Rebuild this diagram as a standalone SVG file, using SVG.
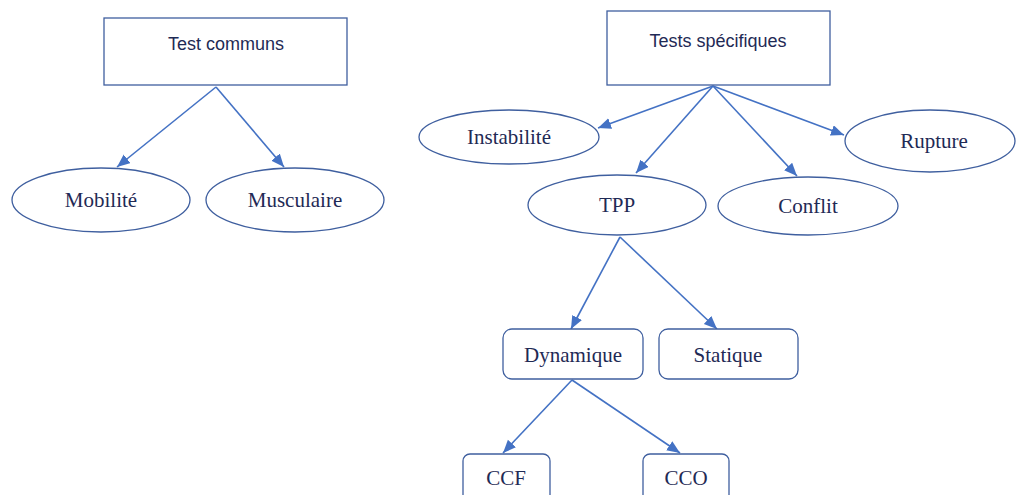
<svg xmlns="http://www.w3.org/2000/svg" width="1020" height="495" viewBox="0 0 1020 495">
<style>
.box{fill:#fff;stroke:#3f5f9f;stroke-width:1.3}
.ell{fill:#fff;stroke:#3f5f9f;stroke-width:1.3}
.sans{font-family:"Liberation Sans",Arial,sans-serif;font-size:18px;fill:#1f2a55;text-anchor:middle}
.serif{font-family:"Liberation Serif","Times New Roman",serif;font-size:21px;fill:#1f2a55;text-anchor:middle}
.conn line{stroke:#4472c4;stroke-width:1.6;marker-end:url(#ah)}
</style>
<defs>
<marker id="ah" markerUnits="userSpaceOnUse" markerWidth="15" markerHeight="13" refX="13" refY="5.5" orient="auto">
<path d="M0,0 L13,5.5 L0,11 z" fill="#4472c4"/>
</marker>
</defs>
<rect width="1020" height="495" fill="#fff"/>
<g id="connectors" class="conn">
<line x1="216" y1="87" x2="117" y2="167"/>
<line x1="216" y1="87" x2="284" y2="167"/>
<line x1="713" y1="86" x2="598" y2="128"/>
<line x1="713" y1="86" x2="636" y2="173"/>
<line x1="713" y1="86" x2="797" y2="176"/>
<line x1="713" y1="86" x2="844" y2="135"/>
<line x1="620" y1="237" x2="571" y2="329"/>
<line x1="620" y1="237" x2="717" y2="329"/>
<line x1="572" y1="380" x2="503" y2="453"/>
<line x1="572" y1="380" x2="680" y2="453"/>
</g>
<g id="test-communs"><rect class="box" x="104" y="18" width="243" height="67"/><text class="sans" x="226" y="50">Test communs</text></g>
<g id="mobilite"><ellipse class="ell" cx="101" cy="200" rx="89" ry="32"/><text class="serif" x="101" y="207">Mobilité</text></g>
<g id="musculaire"><ellipse class="ell" cx="295" cy="200" rx="89" ry="32"/><text class="serif" x="295" y="207">Musculaire</text></g>
<g id="tests-specifiques"><rect class="box" x="607" y="11" width="223" height="74"/><text class="sans" x="718" y="47">Tests spécifiques</text></g>
<g id="instabilite"><ellipse class="ell" cx="509" cy="137" rx="90" ry="27"/><text class="serif" x="509" y="144">Instabilité</text></g>
<g id="rupture"><ellipse class="ell" cx="930" cy="141" rx="85" ry="31"/><text class="serif" x="934" y="148">Rupture</text></g>
<g id="tpp"><ellipse class="ell" cx="617" cy="205" rx="89" ry="30"/><text class="serif" x="617" y="212">TPP</text></g>
<g id="conflit"><ellipse class="ell" cx="808" cy="206" rx="90" ry="29"/><text class="serif" x="808" y="213">Conflit</text></g>
<g id="dynamique"><rect class="box" x="503" y="329" width="140" height="50" rx="9"/><text class="serif" x="573" y="362">Dynamique</text></g>
<g id="statique"><rect class="box" x="659" y="329" width="139" height="50" rx="9"/><text class="serif" x="728" y="362">Statique</text></g>
<g id="ccf"><rect class="box" x="463" y="454" width="87" height="60" rx="7"/><text class="serif" x="506" y="485">CCF</text></g>
<g id="cco"><rect class="box" x="643" y="454" width="86" height="60" rx="7"/><text class="serif" x="686" y="485">CCO</text></g>
</svg>
